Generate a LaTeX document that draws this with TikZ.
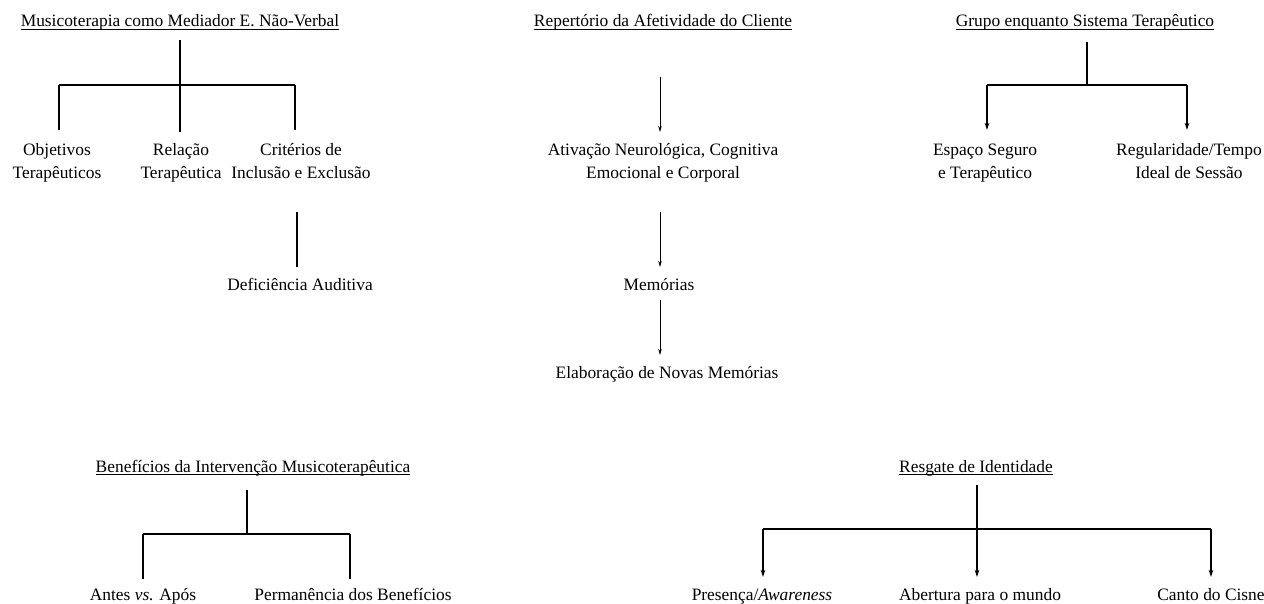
\documentclass[tikz,border=0pt]{standalone}
\usepackage{fontspec}
\setmainfont{Liberation Serif}
\usetikzlibrary{arrows.meta}
\begin{document}
\begin{tikzpicture}[x=1pt,y=-1pt,
  txt/.style={font=\fontsize{17.4}{22.5}\selectfont, align=center, inner sep=0pt, anchor=center},
  ttl/.style={txt},
  ln/.style={line width=1.4pt},
  thickln/.style={line width=2.2pt},
  ul/.style={line width=0.8pt},
  tarr/.style={line width=0.7pt,-{Stealth[length=6pt,width=3.5pt]}},
  arr/.style={line width=1.3pt,-{Stealth[length=7pt,width=4.5pt]}}]
\useasboundingbox (0,0) rectangle (1264,604);

% ---------- titles ----------
\node[ttl] (t1) at (180,22.5) {\strut Musicoterapia como Mediador E. Não-Verbal};
\node[ttl] (t2) at (663,22.5) {\strut Repertório da Afetividade do Cliente};
\node[ttl] (t3) at (1085,22.5) {\strut Grupo enquanto Sistema Terapêutico};
\node[ttl] (t4) at (253,467.5) {\strut Benefícios da Intervenção Musicoterapêutica};
\node[ttl] (t5) at (976,467.5) {\strut Resgate de Identidade};
\foreach \t in {t1,t2,t3,t4,t5}{
  \draw[ul] ([yshift=-2.5pt]\t.base west) -- ([yshift=-2.5pt]\t.base east);
}

% ---------- group 1 ----------
\node[txt] (obj) at (57,162.75) {\strut Objetivos\\\strut Terapêuticos};
\node[txt] (rel) at (181,162.75) {\strut Relação\\\strut Terapêutica};
\node[txt] (cri) at (301,162.75) {\strut Critérios de\\\strut Inclusão e Exclusão};
\node[txt] (def) at (300,286.5) {\strut Deficiência Auditiva};
\coordinate (g1a) at (180,40);
\coordinate (g1j) at (180,85);
\coordinate (g1b) at (180,132);
\coordinate (g1l) at (59,85);
\coordinate (g1lb) at (59,130);
\coordinate (g1r) at (295,85);
\coordinate (g1rb) at (295,130);
\draw[ln] (g1a) -- (g1b);
\draw[ln] (g1l) -- (g1r);
\draw[ln] (g1l) -- (g1lb);
\draw[ln] (g1r) -- (g1rb);
\coordinate (g1d1) at (297,212);
\coordinate (g1d2) at (297,267);
\draw[thickln] (g1d1) -- (g1d2);

% ---------- group 2 ----------
\node[txt] (ativ) at (663,162.75) {\strut Ativação Neurológica, Cognitiva\\\strut Emocional e Corporal};
\node[txt] (mem) at (659,286.5) {\strut Memórias};
\node[txt] (elab) at (667,373.5) {\strut Elaboração de Novas Memórias};
\coordinate (g2a) at (660,77);
\coordinate (g2b) at (660,132);
\coordinate (g2c) at (660,212);
\coordinate (g2d) at (660,267);
\coordinate (g2e) at (660,300);
\coordinate (g2f) at (660,355);
\draw[tarr] (g2a) -- (g2b);
\draw[tarr] (g2c) -- (g2d);
\draw[tarr] (g2e) -- (g2f);

% ---------- group 3 ----------
\node[txt] (esp) at (985,162.75) {\strut Espaço Seguro\\\strut e Terapêutico};
\node[txt] (reg) at (1189,162.75) {\strut Regularidade/Tempo\\\strut Ideal de Sessão};
\coordinate (g3a) at (1087,42);
\coordinate (g3j) at (1087,85);
\coordinate (g3l) at (987,85);
\coordinate (g3lb) at (987,130);
\coordinate (g3r) at (1187,85);
\coordinate (g3rb) at (1187,130);
\draw[ln] (g3a) -- (g3j);
\draw[ln] (g3l) -- (g3r);
\draw[arr] (g3l) -- (g3lb);
\draw[arr] (g3r) -- (g3rb);

% ---------- group 4 ----------
\node[txt] (antes) at (143,595.5) {\strut Antes \textit{vs.} Após};
\node[txt] (perm) at (353,595.5) {\strut Permanência dos Benefícios};
\coordinate (g4a) at (247,490);
\coordinate (g4j) at (247,534);
\coordinate (g4l) at (143,534);
\coordinate (g4lb) at (143,579);
\coordinate (g4r) at (350,534);
\coordinate (g4rb) at (350,579);
\draw[ln] (g4a) -- (g4j);
\draw[ln] (g4l) -- (g4r);
\draw[ln] (g4l) -- (g4lb);
\draw[ln] (g4r) -- (g4rb);

% ---------- group 5 ----------
\node[txt] (pres) at (762,595.5) {\strut Presença/\textit{Awareness}};
\node[txt] (abert) at (980,595.5) {\strut Abertura para o mundo};
\node[txt] (canto) at (1211,595.5) {\strut Canto do Cisne};
\coordinate (g5a) at (977,485);
\coordinate (g5b) at (977,577);
\coordinate (g5l) at (763,529);
\coordinate (g5lb) at (763,577);
\coordinate (g5r) at (1211,529);
\coordinate (g5rb) at (1211,577);
\draw[arr] (g5a) -- (g5b);
\draw[ln] (g5l) -- (g5r);
\draw[arr] (g5l) -- (g5lb);
\draw[arr] (g5r) -- (g5rb);
\end{tikzpicture}
\end{document}
